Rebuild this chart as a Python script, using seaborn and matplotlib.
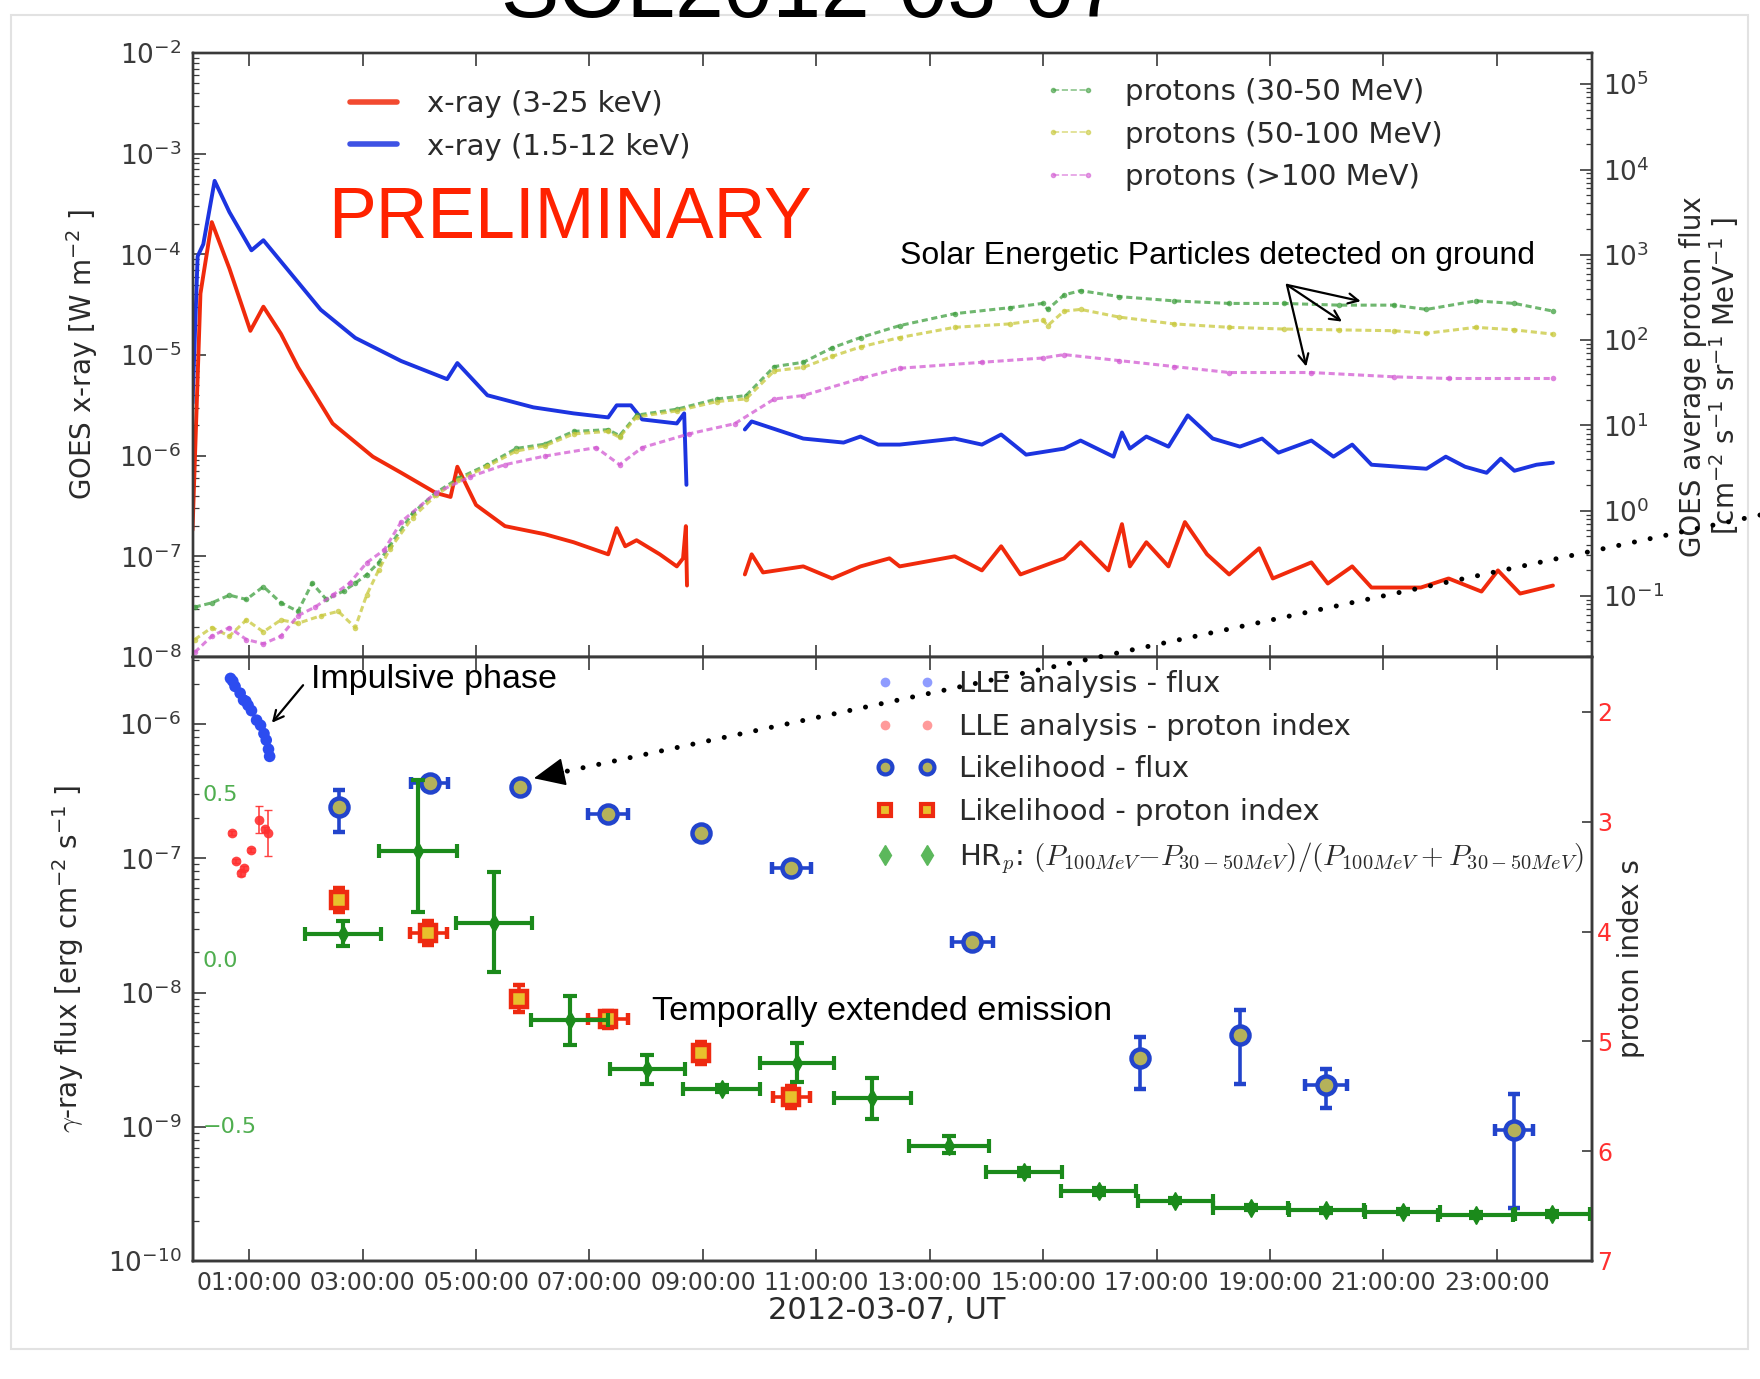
import numpy as np
import pandas as pd
import seaborn as sns
import matplotlib.pyplot as plt
from matplotlib.ticker import FixedLocator, FuncFormatter
from matplotlib.lines import Line2D
from matplotlib.patches import Rectangle, ConnectionPatch

# ---------------------------------------------------------------------------
# data (time = hours after 2012-03-07 00:00 UT)
# ---------------------------------------------------------------------------
# GOES x-ray, log10 of flux in W m^-2 ; data gap between ~08:45 and ~09:45
xray_long_h = [0.0, 0.14, 0.21, 0.34, 0.65, 1.02, 1.25, 1.56, 1.86, 2.47,
               3.18, 3.68, 4.29, 4.55, 4.67, 5.0, 5.51, 6.21, 6.72, 7.33,
               7.48, 7.63, 7.83, 8.24, 8.54, 8.65, 8.70, 8.72,
               9.74, 9.86, 10.06, 10.77, 11.28, 11.78, 12.29, 12.47, 13.44, 13.92,
               14.26, 14.60, 15.37, 15.66, 16.15, 16.39, 16.53, 16.82, 17.21, 17.50,
               17.89, 18.28, 18.81, 19.05, 19.73, 20.02, 20.45, 20.79, 21.66, 22.15,
               22.73, 23.02, 23.41, 23.99]
xray_long_exp = [-6.74, -4.39, -4.14, -3.68, -4.14, -4.76, -4.52, -4.79, -5.12, -5.68,
                 -6.01, -6.17, -6.37, -6.41, -6.11, -6.49, -6.70, -6.78, -6.86, -6.98,
                 -6.72, -6.90, -6.84, -6.98, -7.10, -7.02, -6.70, -7.29,
                 -7.18, -6.98, -7.16, -7.10, -7.22, -7.10, -7.02, -7.10, -7.00, -7.14,
                 -6.90, -7.18, -7.02, -6.86, -7.14, -6.68, -7.10, -6.86, -7.10, -6.66,
                 -6.98, -7.18, -6.92, -7.22, -7.06, -7.27, -7.10, -7.31, -7.31, -7.22,
                 -7.35, -7.14, -7.37, -7.29]

xray_short_h = [0.0, 0.09, 0.19, 0.39, 0.65, 1.04, 1.25, 1.66, 2.26, 2.87,
                3.68, 4.49, 4.67, 5.20, 6.01, 6.72, 7.33, 7.48, 7.73, 7.93,
                8.54, 8.67, 8.71,
                9.74, 9.86, 10.77, 11.48, 11.78, 12.09, 12.47, 13.44, 13.92, 14.26,
                14.70, 15.37, 15.66, 16.24, 16.39, 16.53, 16.82, 17.21, 17.55, 17.99,
                18.47, 18.86, 19.15, 19.73, 20.12, 20.45, 20.79, 21.76, 22.10, 22.44,
                22.82, 23.07, 23.31, 23.70, 23.99]
xray_short_exp = [-5.48, -4.02, -3.90, -3.27, -3.58, -3.96, -3.86, -4.14, -4.55, -4.83,
                  -5.06, -5.24, -5.08, -5.40, -5.52, -5.58, -5.62, -5.50, -5.50, -5.64,
                  -5.68, -5.58, -6.29,
                  -5.74, -5.66, -5.83, -5.87, -5.81, -5.89, -5.89, -5.83, -5.89, -5.79,
                  -5.99, -5.93, -5.85, -6.01, -5.77, -5.93, -5.81, -5.91, -5.60, -5.83,
                  -5.91, -5.83, -5.97, -5.85, -6.01, -5.89, -6.09, -6.13, -6.01, -6.11,
                  -6.17, -6.03, -6.15, -6.09, -6.07]
xray_gap_after = 9.0

# GOES protons, log10 of cm^-2 s^-1 sr^-1 MeV^-1
p30_h = [0.04, 0.34, 0.65, 0.95, 1.25, 1.56, 1.86, 2.11, 2.36, 2.67,
         2.87, 3.07, 3.28, 3.48, 3.88, 4.29, 4.69, 5.20, 5.71, 6.21,
         6.72, 7.33, 7.53, 7.83, 8.54, 9.25, 9.76, 10.26, 10.77, 11.28,
         11.78, 12.47, 13.44, 14.41, 14.99, 15.08, 15.37, 15.66, 16.34, 17.31,
         18.28, 19.24, 20.21, 21.18, 21.76, 22.63, 23.31, 23.99]
p30_exp = [-1.13, -1.08, -0.99, -1.04, -0.89, -1.08, -1.18, -0.85, -1.04, -0.94,
           -0.85, -0.75, -0.61, -0.41, -0.03, 0.21, 0.38, 0.54, 0.73, 0.78,
           0.93, 0.95, 0.88, 1.12, 1.19, 1.31, 1.35, 1.69, 1.74, 1.91,
           2.03, 2.17, 2.31, 2.38, 2.43, 2.36, 2.53, 2.58, 2.51, 2.46,
           2.43, 2.43, 2.41, 2.41, 2.36, 2.46, 2.43, 2.34]

p50_h = [0.04, 0.34, 0.65, 0.95, 1.25, 1.56, 1.86, 2.27, 2.57, 2.87,
         3.07, 3.28, 3.48, 3.88, 4.29, 4.69, 5.20, 5.71, 6.21, 6.72,
         7.33, 7.53, 7.83, 8.54, 9.25, 9.76, 10.26, 10.77, 11.28, 11.78,
         12.47, 13.44, 14.41, 14.99, 15.08, 15.37, 15.66, 16.34, 17.31, 18.28,
         19.24, 20.21, 21.18, 21.76, 22.63, 23.31, 23.99]
p50_exp = [-1.51, -1.37, -1.47, -1.28, -1.42, -1.28, -1.32, -1.23, -1.18, -1.37,
           -0.99, -0.70, -0.45, -0.08, 0.18, 0.36, 0.52, 0.70, 0.76, 0.90,
           0.93, 0.86, 1.10, 1.17, 1.28, 1.31, 1.64, 1.68, 1.81, 1.92,
           2.03, 2.15, 2.19, 2.24, 2.17, 2.34, 2.36, 2.27, 2.19, 2.15,
           2.13, 2.12, 2.11, 2.08, 2.15, 2.12, 2.07]

p100_h = [0.04, 0.34, 0.65, 0.95, 1.25, 1.56, 1.86, 2.16, 2.47, 2.77,
          3.07, 3.38, 3.68, 4.29, 4.90, 5.51, 6.21, 7.12, 7.53, 7.93,
          8.75, 9.56, 10.26, 10.77, 11.78, 12.47, 13.92, 14.99, 15.37, 16.34,
          17.31, 18.28, 19.73, 21.18, 22.15, 23.99]
p100_exp = [-1.66, -1.47, -1.37, -1.51, -1.56, -1.47, -1.23, -1.13, -0.99, -0.85,
            -0.61, -0.46, -0.13, 0.21, 0.40, 0.54, 0.64, 0.74, 0.54, 0.74,
            0.90, 1.02, 1.31, 1.35, 1.55, 1.67, 1.74, 1.79, 1.83, 1.76,
            1.69, 1.62, 1.62, 1.57, 1.55, 1.55]

# Fermi-LAT LLE analysis (impulsive phase)
lle_flux_h = [0.67, 0.71, 0.75, 0.84, 0.90, 0.94, 0.98, 1.04, 1.13, 1.20, 1.26, 1.30, 1.34, 1.36]
lle_flux = [2.19e-6, 2.09e-6, 1.91e-6, 1.70e-6, 1.51e-6, 1.48e-6, 1.38e-6,
            1.26e-6, 1.07e-6, 9.8e-7, 8.5e-7, 7.6e-7, 6.5e-7, 5.75e-7]
lle_index_h = [0.69, 0.77, 0.85, 0.91, 1.04, 1.18, 1.28, 1.34]
lle_index = [3.10, 3.36, 3.47, 3.42, 3.26, 2.98, 3.07, 3.10]
lle_index_err = [0.02, 0.02, 0.02, 0.02, 0.02, 0.12, 0.02, 0.21]

# likelihood analysis
lik_h = [2.59, 4.18, 5.78, 7.33, 8.96, 10.56, 13.75, 16.70, 18.47, 19.99, 23.30]
lik_h_err = [0.0, 0.33, 0.0, 0.35, 0.0, 0.34, 0.36, 0.0, 0.0, 0.37, 0.33]
lik_flux = [2.42e-7, 3.63e-7, 3.39e-7, 2.14e-7, 1.55e-7, 8.5e-8, 2.4e-8, 3.24e-9, 4.79e-9, 2.04e-9, 9.5e-10]
lik_flux_lo = [1.58e-7, 3.45e-7, 3.25e-7, 2.05e-7, 1.48e-7, 8.1e-8, 2.2e-8, 1.9e-9, 2.09e-9, 1.38e-9, 2.5e-10]
lik_flux_hi = [3.24e-7, 3.8e-7, 3.55e-7, 2.25e-7, 1.62e-7, 8.9e-8, 2.65e-8, 4.68e-9, 7.41e-9, 2.69e-9, 1.74e-9]

lik_index_h = [2.59, 4.16, 5.75, 7.33, 8.96, 10.56]
lik_index_h_err = [0.0, 0.33, 0.0, 0.35, 0.0, 0.33]
lik_index = [3.71, 4.01, 4.61, 4.80, 5.11, 5.51]
lik_index_err = [0.11, 0.11, 0.12, 0.08, 0.10, 0.10]

# proton hardness ratio
hr_h = [2.65, 3.98, 5.31, 6.65, 8.02, 9.33, 10.66, 11.99, 13.34,
        14.67, 15.98, 17.33, 18.66, 19.99, 21.34, 22.63, 23.98]
hr_h_err = [0.675, 0.685, 0.67, 0.68, 0.66, 0.68, 0.66, 0.68, 0.70,
            0.67, 0.66, 0.66, 0.66, 0.66, 0.66, 0.66, 0.66]
hr = [0.075, 0.324, 0.108, -0.185, -0.330, -0.391, -0.313, -0.420, -0.562,
      -0.643, -0.700, -0.728, -0.749, -0.757, -0.761, -0.771, -0.768]
hr_lo = [0.038, 0.143, -0.040, -0.259, -0.377, -0.401, -0.372, -0.482, -0.586,
         -0.655, -0.710, -0.736, -0.757, -0.765, -0.769, -0.779, -0.776]
hr_hi = [0.115, 0.540, 0.262, -0.110, -0.288, -0.381, -0.252, -0.358, -0.533,
         -0.631, -0.690, -0.720, -0.741, -0.749, -0.753, -0.763, -0.760]

tick_hours = list(range(1, 24, 2))

# ---------------------------------------------------------------------------
RED = '#f02a0c'
BLUE = '#1c34e0'
GREEN_P = '#3f9f3f'
YELLOW_P = '#c8c83a'
MAGENTA_P = '#d25ad2'
LIK_BLUE = '#2244cc'
LIK_FACE = '#b4b25a'
IDX_RED = '#ee2a10'
IDX_FACE = '#e8c02c'
HR_GREEN = '#1b8a1b'

sns.set_style('ticks', {'xtick.direction': 'in', 'ytick.direction': 'in',
                        'axes.edgecolor': '#3a3a3a'})
plt.rcParams['font.family'] = ['DejaVu Sans']
plt.rcParams['mathtext.fontset'] = 'cm'
plt.rcParams['xtick.color'] = '#3a3a3a'
plt.rcParams['ytick.color'] = '#3a3a3a'

T_MAX = 24.67
fig = plt.figure(figsize=(17.6, 13.79), dpi=100)
ax_x = fig.add_axes([0.10938, 0.52357, 0.79489, 0.43800])
ax_p = ax_x.twinx()
ax_g = fig.add_axes([0.10938, 0.08557, 0.79489, 0.43800])
ax_s = ax_g.twinx()
ax_h = ax_g.twinx()

# ---- top panel: GOES
for h, e, col in [(xray_long_h, xray_long_exp, RED), (xray_short_h, xray_short_exp, BLUE)]:
    d = pd.DataFrame({'hour': h, 'flux': 10.0 ** np.array(e)})
    d['seg'] = (d['hour'] > xray_gap_after).astype(int)
    sns.lineplot(data=d, x='hour', y='flux', units='seg', estimator=None,
                 color=col, lw=2.8, ax=ax_x, legend=False)

for h, e, col in [(p30_h, p30_exp, GREEN_P), (p50_h, p50_exp, YELLOW_P), (p100_h, p100_exp, MAGENTA_P)]:
    sns.lineplot(x=h, y=10.0 ** np.array(e), estimator=None, color=col, lw=2.2,
                 linestyle=(0, (2.0, 1.2)), marker='.', markersize=8, markeredgewidth=0,
                 alpha=0.75, ax=ax_p, legend=False)

ax_x.set_yscale('log')
ax_x.set_ylim(1e-8, 1e-2)
ax_p.set_yscale('log')
ax_p.set_ylim(10 ** -1.715, 10 ** 5.366)

# ---- bottom panel: gamma rays
sns.scatterplot(x=lle_flux_h, y=lle_flux, color='#2c4cf0', s=70, edgecolor='none', ax=ax_g, legend=False)
ax_g.errorbar(lik_h, lik_flux, xerr=lik_h_err,
              yerr=[np.array(lik_flux) - np.array(lik_flux_lo), np.array(lik_flux_hi) - np.array(lik_flux)],
              fmt='o', ms=13, mfc=LIK_FACE, mec=LIK_BLUE, mew=3.2, ecolor=LIK_BLUE,
              elinewidth=2.6, capsize=4, capthick=2.6, zorder=4)
ax_g.set_yscale('log')
ax_g.set_ylim(1e-10, 10 ** -5.5)

ax_s.errorbar(lle_index_h, lle_index, yerr=lle_index_err, fmt='o', ms=7, color='#ff3030',
              mec='none', elinewidth=1.2, capsize=3, alpha=0.9)
ax_s.errorbar(lik_index_h, lik_index, xerr=lik_index_h_err, yerr=lik_index_err,
              fmt='s', ms=11, mfc=IDX_FACE, mec=IDX_RED, mew=3.2, ecolor=IDX_RED,
              elinewidth=2.6, capsize=4, capthick=2.6)
ax_s.set_ylim(7, 1.5)

ax_h.errorbar(hr_h, hr, xerr=hr_h_err,
              yerr=[np.array(hr) - np.array(hr_lo), np.array(hr_hi) - np.array(hr)],
              fmt='d', ms=9, color=HR_GREEN, elinewidth=3, capsize=5, capthick=3)
ax_h.set_ylim(-0.91, 0.91)

# ---- axes cosmetics
hour_fmt = FuncFormatter(lambda v, p: f'{int(round(v)):02d}:00:00')
for ax in (ax_x, ax_g):
    ax.set_xlim(0, T_MAX)
    ax.xaxis.set_major_locator(FixedLocator(tick_hours))
    ax.xaxis.set_major_formatter(hour_fmt)
    ax.tick_params(axis='x', which='major', direction='in', top=True, bottom=True,
                   length=9, width=1.2, labelsize=17, pad=7)
    ax.tick_params(axis='y', which='major', direction='in', length=9, width=1.2, labelsize=19, pad=8)
    ax.tick_params(axis='y', which='minor', direction='in', length=4.5, width=0.9)
ax_x.tick_params(axis='x', labelbottom=False)

ax_p.tick_params(axis='y', which='major', direction='in', length=9, width=1.2, labelsize=19, pad=8)
ax_p.tick_params(axis='y', which='minor', direction='in', length=4.5, width=0.9)

ax_s.set_yticks([2, 3, 4, 5, 6, 7])
ax_s.tick_params(axis='y', which='major', direction='in', length=7, width=1.2,
                 labelsize=17, labelcolor='#ff3030', pad=4)

ax_h.set_yticks([-0.5, 0.0, 0.5])
ax_h.yaxis.set_major_formatter(FuncFormatter(lambda v, p: f'{v:.1f}'.replace('-', '\u2212')))
ax_h.yaxis.tick_left()
ax_h.tick_params(axis='y', which='major', direction='in', length=0, pad=-7,
                 labelsize=16, labelcolor='#4fae4f')
for lab in ax_h.get_yticklabels():
    lab.set_horizontalalignment('left')

for ax in (ax_x, ax_p, ax_g, ax_s, ax_h):
    for sp in ax.spines.values():
        sp.set_linewidth(1.7)
        sp.set_color('#3a3a3a')

ax_x.set_xlabel('')
ax_x.set_ylabel('GOES x-ray [W m$\\mathregular{^{-2}}$ ]', fontsize=20, color='#2a2a2a')
ax_x.yaxis.set_label_coords(-0.0661, 0.5)
ax_p.set_ylabel('GOES average proton flux\n[cm$\\mathregular{^{-2}}$ s$\\mathregular{^{-1}}$ '
                'sr$\\mathregular{^{-1}}$ MeV$\\mathregular{^{-1}}$ ]',
                fontsize=20, color='#2a2a2a', linespacing=1.0)
ax_p.yaxis.set_label_coords(1.0626, 0.465)
ax_g.set_ylabel('$\\gamma$-ray flux [erg cm$\\mathregular{^{-2}}$ s$\\mathregular{^{-1}}$ ]',
                fontsize=20, color='#2a2a2a')
ax_g.yaxis.set_label_coords(-0.0764, 0.5)
ax_s.set_ylabel('proton index s', fontsize=20, color='#2a2a2a')
ax_s.yaxis.set_label_coords(1.0182, 0.5)
ax_g.set_xlabel('2012-03-07, UT', fontsize=22, color='#2a2a2a')
ax_g.xaxis.set_label_coords(0.496, -0.058)

# ---- legends
leg_kw = dict(frameon=False, fontsize=21, borderpad=0, borderaxespad=0,
              labelspacing=0.5, labelcolor='#2a2a2a')
xray_handles = [Line2D([], [], color=RED, lw=4, alpha=0.85, label='x-ray (3-25 keV)'),
                Line2D([], [], color=BLUE, lw=4, alpha=0.85, label='x-ray (1.5-12 keV)')]
ax_x.legend(handles=xray_handles, loc='upper left', bbox_to_anchor=(0.1126, 0.9387),
            handlelength=1.6, handletextpad=1.05, **leg_kw)
proton_handles = [Line2D([], [], color=c, ls='--', marker='.', ms=6, lw=1.2, alpha=0.6, label=l)
                  for c, l in [(GREEN_P, 'protons (30-50 MeV)'), (YELLOW_P, 'protons (50-100 MeV)'),
                               (MAGENTA_P, 'protons (>100 MeV)')]]
ax_p.legend(handles=proton_handles, loc='upper left', bbox_to_anchor=(0.6090, 0.9586),
            numpoints=2, handlelength=1.8, handletextpad=0.95, **leg_kw)

gamma_handles = [
    Line2D([], [], ls='none', marker='o', ms=7, color='#8f9cff', mec='none', label='LLE analysis - flux'),
    Line2D([], [], ls='none', marker='o', ms=7, color='#ff9a9a', mec='none', label='LLE analysis - proton index'),
    Line2D([], [], ls='none', marker='o', ms=10, mfc=LIK_FACE, mec=LIK_BLUE, mew=3, label='Likelihood - flux'),
    Line2D([], [], ls='none', marker='s', ms=9, mfc=IDX_FACE, mec=IDX_RED, mew=3, label='Likelihood - proton index'),
    Line2D([], [], ls='none', marker='d', ms=10, color='#5cb85c',
           label='HR$_p$: $(P_{100MeV}{-}P_{30-50MeV})/(P_{100MeV}+P_{30-50MeV})$'),
]
ax_h.legend(handles=gamma_handles, loc='upper left', bbox_to_anchor=(0.4885, 0.978),
            numpoints=2, handlelength=2.05, handletextpad=0.8, **leg_kw)

# ---- annotations
ann_font = dict(family='Liberation Sans', color='black')
fig.text(0.4608, 0.98767, 'SOL2012-03-07', ha='center', va='baseline', fontsize=63, **ann_font)
fig.text(0.1866, 0.8274, 'PRELIMINARY', ha='left', va='baseline', fontsize=51.5,
         family='Liberation Sans', color='#ff2200')
fig.text(0.5114, 0.8082, 'Solar Energetic Particles detected on ground', ha='left',
         va='baseline', fontsize=23, **ann_font)
for target in [(20.6, 10 ** 2.456), (20.27, 10 ** 2.217), (19.64, 10 ** 1.69)]:
    ax_p.annotate('', xy=target, xytext=(19.30, 10 ** 2.647),
                  arrowprops=dict(arrowstyle='->', lw=1.6, color='k', shrinkA=0, shrinkB=0,
                                  mutation_scale=18))

fig.text(0.1765, 0.5009, 'Impulsive phase', ha='left', va='baseline', fontsize=24.5, **ann_font)
ax_g.annotate('', xy=(1.40, 10 ** -5.99), xytext=(1.95, 10 ** -5.71),
              arrowprops=dict(arrowstyle='->', lw=1.6, color='k', shrinkA=0, shrinkB=0,
                              mutation_scale=18))
fig.text(0.3702, 0.2604, 'Temporally extended emission', ha='left', va='baseline', fontsize=24.7, **ann_font)

# dotted pointer from the right edge to the 05:47 likelihood point
tip = (6.02, 3.95e-7)
con = ConnectionPatch(xyA=(1.0, 0.6265), coordsA='figure fraction', xyB=tip, coordsB='data',
                      axesB=ax_g, arrowstyle='-', color='k', lw=3.6,
                      linestyle=(0, (0.01, 3.2)), capstyle='round', shrinkA=0, shrinkB=14)
fig.add_artist(con)
ax_g.annotate('', xy=tip, xytext=(29.3, 6.3), textcoords='offset pixels',
              arrowprops=dict(arrowstyle='-|>,head_length=1.0,head_width=0.45', mutation_scale=20,
                              color='k', lw=1.2, shrinkA=0, shrinkB=0))

# light frame around the whole picture
fig.add_artist(Rectangle((11 / 1760, 1 - 1349 / 1379), 1737 / 1760, 1334 / 1379,
                         transform=fig.transFigure, fill=False, ec='#e2e2e2', lw=1.5))

fig.savefig('out.png', dpi=100)
